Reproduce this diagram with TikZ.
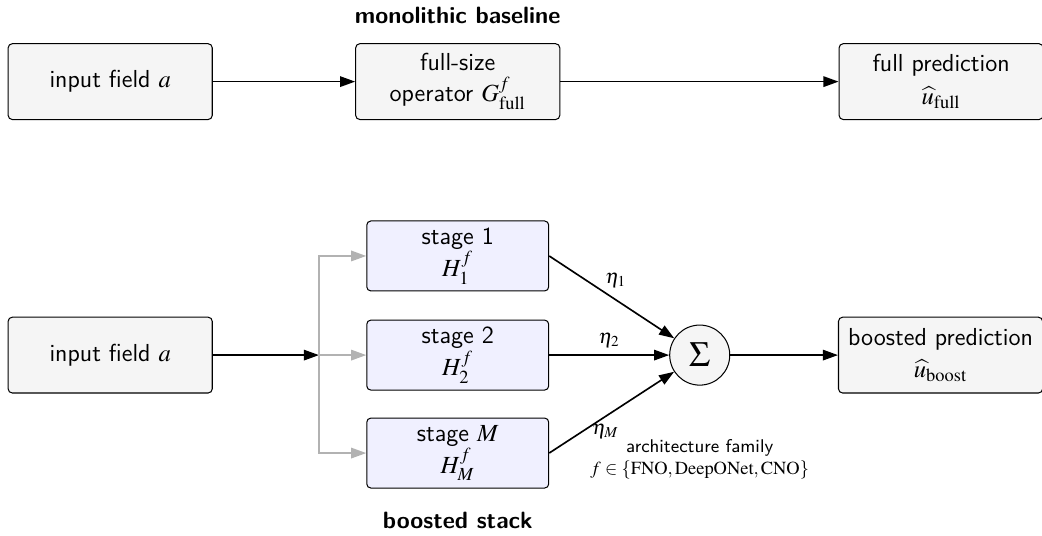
\documentclass[tikz,border=0pt]{standalone}
\usepackage{mathptmx}
\usetikzlibrary{arrows.meta}
\begin{document}
\begin{tikzpicture}[>={Triangle[length=2.6mm,width=1.8mm]},font=\sffamily,
    box/.style={draw,rounded corners=2pt,fill=gray!8,line width=0.5pt,
      minimum width=3.5cm,minimum height=1.3cm,align=center,font=\sffamily\large},
    stagebox/.style={draw,rounded corners=2pt,fill=blue!6,line width=0.5pt,
      minimum width=3.12cm,minimum height=1.2cm,align=center,font=\sffamily\large},
    flow/.style={->,line width=0.8pt},
    fan/.style={->,line width=0.8pt,gray!60},
    title/.style={font=\sffamily\bfseries\fontsize{11.5}{14}\selectfont}]
    \useasboundingbox (0,0) rectangle (17.87,9.19);
    % monolithic baseline
    \node[title] (ttlA) at (7.85,8.93) {monolithic baseline};
    \node[box] (inA) at (1.89,7.79) {input field $a$};
    \node[box] (full) at (7.85,7.79) {full-size\\[1pt]operator $G^f_{\mathrm{full}}$};
    \node[box] (outA) at (16.14,7.79) {full prediction\\[2pt]$\widehat{u}_{\mathrm{full}}$};
    \draw[flow] (inA) -- (full);
    \draw[flow] (full) -- (outA);
    % boosted stack
    \node[box] (inB) at (1.89,3.10) {input field $a$};
    \coordinate (split) at (5.47,3.10);
    \node[stagebox] (s1) at (7.85,4.80) {stage 1\\$H^f_1$};
    \node[stagebox] (s2) at (7.85,3.10) {stage 2\\$H^f_2$};
    \node[stagebox] (sM) at (7.85,1.42) {stage $M$\\$H^f_M$};
    \node[draw,circle,fill=gray!8,line width=0.5pt,minimum size=1.03cm,
      font=\LARGE] (sum) at (12.0,3.10) {$\Sigma$};
    \node[box] (outB) at (16.13,3.10) {boosted prediction\\[2pt]$\widehat{u}_{\mathrm{boost}}$};
    \node[title] (ttlB) at (7.85,0.27) {boosted stack};
    \draw[flow] (inB) -- (split);
    \draw[fan] (split) |- (s1);
    \draw[fan] (split) -- (s2);
    \draw[fan] (split) |- (sM);
    \draw[flow] (s1.east) -- (sum)
      node[pos=0.5,above=1pt,xshift=2pt] {$\eta_1$};
    \draw[flow] (s2) -- (sum)
      node[midway,above] {$\eta_2$};
    \draw[flow] (sM.east) -- (sum)
      node[pos=0.45,below=0pt] {$\eta_M$};
    \draw[flow] (sum) -- (outB);
    \node[align=center,font=\sffamily\small] (fam) at (12.0,1.31)
      {architecture family\\$f\in\{\mathrm{FNO},\mathrm{DeepONet},\mathrm{CNO}\}$};
\end{tikzpicture}
\end{document}
